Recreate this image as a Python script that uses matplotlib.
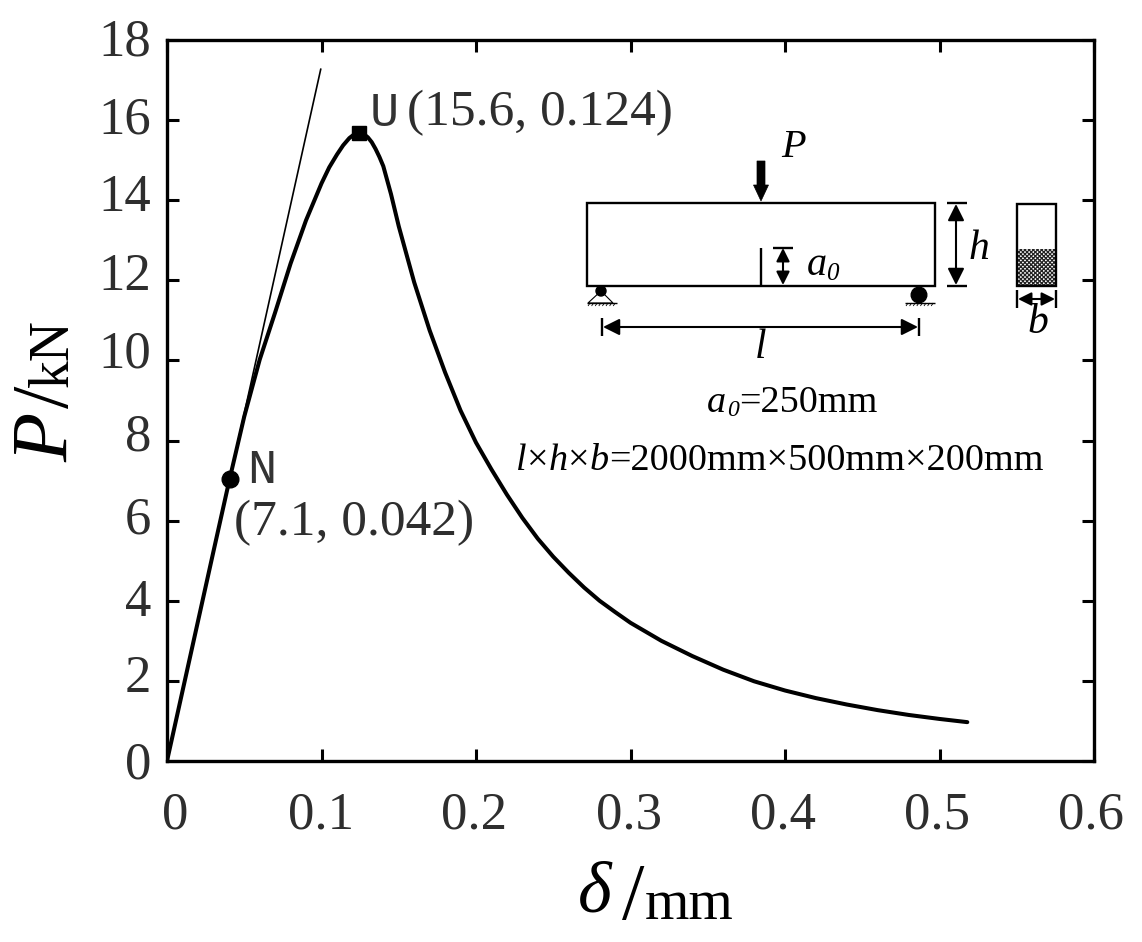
import matplotlib
matplotlib.use("Agg")
import matplotlib.pyplot as plt
from matplotlib.patches import Rectangle, Polygon, Circle
from matplotlib.transforms import ScaledTranslation

plt.rcParams['font.family'] = ['Liberation Serif', 'DejaVu Serif']
plt.rcParams['hatch.linewidth'] = 0.9

delta = [0, 0.01, 0.02, 0.03, 0.04, 0.05, 0.06, 0.07, 0.08, 0.09, 0.10, 0.105, 0.11, 0.114, 0.118, 0.121, 0.124,
         0.127, 0.13, 0.1325, 0.135, 0.1375, 0.14, 0.145, 0.15, 0.16, 0.17, 0.18, 0.19, 0.20, 0.21, 0.22, 0.23,
         0.24, 0.25, 0.26, 0.27, 0.28, 0.29, 0.30, 0.32, 0.34, 0.36, 0.38, 0.40, 0.42, 0.44, 0.46, 0.48, 0.50, 0.518]
load = [0, 1.74, 3.48, 5.22, 6.95, 8.6, 10.02, 11.2, 12.42, 13.5, 14.42, 14.82, 15.14, 15.37, 15.55, 15.64, 15.67,
        15.66, 15.57, 15.45, 15.28, 15.08, 14.85, 14.15, 13.35, 11.95, 10.75, 9.7, 8.75, 7.95, 7.28, 6.65, 6.07,
        5.55, 5.1, 4.7, 4.33, 4.0, 3.72, 3.45, 3.0, 2.62, 2.28, 1.99, 1.76, 1.57, 1.41, 1.27, 1.15, 1.05, 0.97]
tangent_x = [0, 0.0995]
tangent_y = [0, 17.27]
point_N = (0.0405, 7.05)
point_U = (0.124, 15.67)
xticks = [0, 0.1, 0.2, 0.3, 0.4, 0.5, 0.6]
yticks = [0, 2, 4, 6, 8, 10, 12, 14, 16, 18]
xticklabels = ['0', '0.1', '0.2', '0.3', '0.4', '0.5', '0.6']

W, H = 1142, 942
fig = plt.figure(figsize=(W/100, H/100), dpi=100)
ax = fig.add_axes([167/W, 1-761/H, (1094-167)/W, (761-40)/H])
ax.set_xlim(0, 0.6)
ax.set_ylim(0, 18)
ax.plot(delta, load, color='k', lw=2.9, solid_joinstyle='round', solid_capstyle='round', zorder=3)
ax.plot(tangent_x, tangent_y, color='k', lw=1.2, zorder=2)
ax.plot(*point_N, 'o', color='k', ms=12, zorder=4)
ax.plot(*point_U, 's', color='k', ms=10, zorder=4)
ax.set_xticks(xticks, xticklabels)
ax.set_yticks(yticks)
ax.tick_params(direction='in', top=True, right=True, length=8.5, width=2.2, labelsize=38,
               labelcolor='#2e2e2e', color='k')
ax.tick_params(axis='x', pad=22)
ax.tick_params(axis='y', pad=11.5)
for s in ax.spines.values():
    s.set_linewidth(2.4)

# small per-label nudges (pixels, up positive)
y_nudge = [1, 7, 3, 6, 9, 11, 9, 8, 5, 3]
x_nudge = [8, -1, -2, -2, -2, -3, -3]
for lab, dy in zip(ax.get_yticklabels(), y_nudge):
    lab.set_transform(lab.get_transform() + ScaledTranslation(0, dy/100, fig.dpi_scale_trans))
for lab, dx in zip(ax.get_xticklabels(), x_nudge):
    lab.set_transform(lab.get_transform() + ScaledTranslation(dx/100, 0, fig.dpi_scale_trans))

# overlay in pixel coordinates for labels and the beam sketch
ov = fig.add_axes([0, 0, 1, 1])
ov.set_xlim(0, W)
ov.set_ylim(H, 0)
ov.axis('off')
ov.patch.set_alpha(0)

def T(x, y, s, size, style='normal', ha='left', va='baseline', color='k', family=None, rot=0):
    ov.text(x, y, s, fontsize=size, style=style, ha=ha, va=va, color=color,
            family=family or ['Liberation Serif'], rotation=rot, rotation_mode='anchor')

def L(xs, ys, lw=1.5):
    ov.plot(xs, ys, color='k', lw=lw, solid_capstyle='butt')

def arrow(x0, y0, x1, y1, ms=25):
    ov.annotate('', xy=(x1, y1), xytext=(x0, y0),
                arrowprops=dict(arrowstyle='<|-|>', color='k', lw=1.5, mutation_scale=ms,
                                shrinkA=0, shrinkB=0))

# annotations
T(370, 126, 'U', 35, family=['Liberation Mono'], color='#333333')
T(407, 125, '(15.6, 0.124)', 37, color='#2e2e2e')
T(247, 483, 'N', 35, family=['Liberation Mono'], color='#333333')
T(234, 535, '(7.1, 0.042)', 37, color='#2e2e2e')

# axis titles
T(68, 462, 'P', 58, style='italic', rot=90)
T(68, 408, '/', 58, rot=90)
T(68, 387, 'kN', 40, rot=90)
T(578, 911, 'δ', 52, style='italic')
T(622, 919, '/', 58)
T(645, 919, 'mm', 41)

# beam
ov.add_patch(Rectangle((587, 203), 348, 83, fill=False, ec='k', lw=1.7))
L([761, 761], [248, 286], 1.7)
L([773, 793], [247.5, 247.5], 1.7)
arrow(783, 248, 783, 285, 20)
L([947, 967], [203, 203], 1.7)
L([947, 967], [286, 286], 1.7)
arrow(956, 204, 956, 285, 25)
# load arrow
ov.add_patch(Polygon([(757, 161), (765, 161), (765, 185), (768.5, 185), (761, 201), (753.5, 185), (757, 185)],
                     fc='k', ec='k', lw=0.5))
T(781, 157, 'P', 29, style='italic')
T(807, 275, 'a', 29, style='italic')
T(826, 280, '0', 18, style='italic')
T(969, 259, 'h', 30, style='italic')
# supports
ov.add_patch(Polygon([(601, 291), (588, 303), (613, 303)], fill=False, ec='k', lw=0.8))
ov.add_patch(Circle((601, 291), 5, fc='k', ec='k'))
L([587, 617], [303, 303], 1)
ov.add_patch(Circle((919, 295), 7.8, fc='k', ec='k'))
L([905, 935], [303, 303], 1)
for x0 in (587, 905):
    for i in range(8):
        L([x0+3+3.6*i, x0+1+3.6*i], [303, 306], 0.6)
# span
L([602, 602], [318, 336], 1.7)
L([919, 919], [318, 336], 1.7)
arrow(603, 327, 918, 327, 25)
T(755, 358, 'l', 30, style='italic')
# section
ov.add_patch(Rectangle((1017, 249), 39, 37, fc='white', ec='#222222', hatch='xxxxxxxx', lw=0))
ov.add_patch(Rectangle((1017, 203.5), 39, 82.5, fill=False, ec='k', lw=1.7))
L([1017, 1017], [290, 308], 1.7)
L([1056, 1056], [290, 308], 1.7)
arrow(1018, 299, 1055, 299, 20)
T(1027, 333, 'b', 30, style='italic')
# captions
T(707, 412, 'a', 27.5, style='italic')
T(727, 416, '0', 17, style='italic')
T(739, 412, '=250mm', 27.5)
T(516, 470, 'l', 27.5, style='italic')
T(527, 470, '×', 27.5)
T(548.5, 470, 'h', 27.5, style='italic')
T(568, 470, '×', 27.5)
T(590, 470, 'b', 27.5, style='italic')
T(609.5, 470, '=2000mm×500mm×200mm', 27.5)

fig.savefig('out.png', dpi=100, facecolor='white')
